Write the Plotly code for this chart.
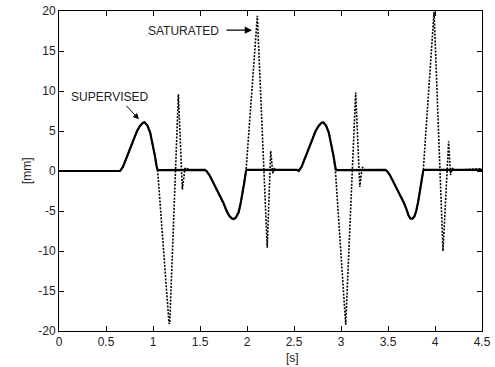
import plotly.graph_objects as go

# SUPERVISED (solid) curve: time [s], displacement [mm]
sup_t = [0.00, 0.65, 0.68, 0.72, 0.76, 0.79, 0.83, 0.86, 0.89, 0.91, 0.94, 0.97, 1.00, 1.02, 1.04, 1.05,
         1.55, 1.57, 1.60, 1.64, 1.68, 1.72, 1.75, 1.78, 1.81, 1.84, 1.86, 1.88, 1.91, 1.93, 1.95, 1.97, 1.99, 2.00,
         2.53, 2.55, 2.58, 2.62, 2.66, 2.69, 2.73, 2.76, 2.79, 2.81, 2.84, 2.87, 2.90, 2.92, 2.94, 2.95,
         3.47, 3.49, 3.52, 3.56, 3.60, 3.64, 3.67, 3.70, 3.72, 3.74, 3.76, 3.78, 3.80, 3.82, 3.84, 3.86, 3.875, 3.89,
         4.50]
sup_y = [0.0, 0.0, 0.5, 1.7, 2.9, 3.9, 5.0, 5.6, 6.0, 6.1, 5.7, 4.8, 3.2, 1.9, 0.5, 0.1,
         0.15, 0.0, -0.5, -1.4, -2.4, -3.3, -4.0, -4.9, -5.6, -5.95, -6.0, -5.85, -5.2, -4.2, -3.0, -1.5, 0.05, 0.15,
         0.15, 0.0, 0.5, 1.7, 2.9, 3.9, 5.0, 5.6, 6.0, 6.1, 5.7, 4.8, 3.2, 1.9, 0.5, 0.1,
         0.15, 0.0, -0.5, -1.4, -2.4, -3.3, -4.0, -4.9, -5.6, -5.95, -5.95, -5.7, -5.0, -3.9, -2.6, -1.2, 0.05, 0.15,
         0.15]

# SATURATED (dotted) curve
sat_t = [0.00, 0.65, 0.68, 0.72, 0.76, 0.79, 0.83, 0.86, 0.89, 0.91, 0.94, 0.97, 1.00, 1.02, 1.04, 1.05,
         1.17, 1.178, 1.27, 1.312, 1.34, 1.36, 1.38, 1.55,
         1.57, 1.60, 1.64, 1.68, 1.72, 1.75, 1.78, 1.81, 1.84, 1.86, 1.88, 1.91, 1.93, 1.95, 1.97, 1.99,
         2.11, 2.215, 2.252, 2.275, 2.29, 2.31, 2.53,
         2.55, 2.58, 2.62, 2.66, 2.69, 2.73, 2.76, 2.79, 2.81, 2.84, 2.87, 2.90, 2.92, 2.94,
         3.05, 3.156, 3.20, 3.225, 3.24, 3.26, 3.47,
         3.49, 3.52, 3.56, 3.60, 3.64, 3.67, 3.70, 3.72, 3.74, 3.76, 3.78, 3.80, 3.82, 3.84, 3.86, 3.875,
         3.99, 4.085, 4.145, 4.165, 4.185, 4.21, 4.50]
sat_y = [0.0, 0.0, 0.5, 1.7, 2.9, 3.9, 5.0, 5.6, 6.0, 6.1, 5.7, 4.8, 3.2, 1.9, 0.5, 0.0,
         -19.0, -19.1, 9.6, -2.3, 0.3, 0.4, 0.1, 0.15,
         0.0, -0.5, -1.4, -2.4, -3.3, -4.0, -4.9, -5.6, -5.95, -6.0, -5.85, -5.2, -4.2, -3.0, -1.5, 0.05,
         19.4, -9.6, 2.5, -0.3, 0.3, 0.1, 0.15,
         0.0, 0.5, 1.7, 2.9, 3.9, 5.0, 5.6, 6.0, 6.1, 5.7, 4.8, 3.2, 1.9, 0.1,
         -19.2, 9.8, -2.0, 0.5, 0.3, 0.1, 0.15,
         0.0, -0.5, -1.4, -2.4, -3.3, -4.0, -4.9, -5.6, -5.95, -5.95, -5.7, -5.0, -3.9, -2.6, -1.2, 0.05,
         19.9, -10.0, 3.7, -0.5, 0.3, 0.1, 0.3]

x_ticks = [0, 0.5, 1, 1.5, 2, 2.5, 3, 3.5, 4, 4.5]
x_tick_labels = ["0", "0.5", "1", "1.5", "2", "2.5", "3", "3.5", "4", "4.5"]
y_ticks = [-20, -15, -10, -5, 0, 5, 10, 15, 20]
y_tick_labels = ["-20", "-15", "-10", "-5", "0", "5", "10", "15", "20"]

FONT = "Liberation Sans, Arial, sans-serif"

fig = go.Figure()
fig.add_trace(go.Scatter(x=sat_t, y=sat_y, mode="lines",
                         line=dict(color="black", width=1.6, dash="2px,1.4px"),
                         name="SATURATED", showlegend=False))
fig.add_trace(go.Scatter(x=sup_t, y=sup_y, mode="lines",
                         line=dict(color="black", width=2.2),
                         name="SUPERVISED", showlegend=False))

axis_common = dict(showline=True, linecolor="black", linewidth=1, mirror="ticks",
                   ticks="inside", ticklen=5, tickcolor="black", showgrid=False,
                   zeroline=False, automargin=False, ticklabeloverflow="allow",
                   tickfont=dict(family=FONT, size=12, color="#222"))

fig.update_xaxes(range=[0, 4.5], tickvals=x_ticks, ticktext=x_tick_labels, **axis_common)
fig.update_yaxes(range=[-20, 20], tickvals=y_ticks, ticktext=y_tick_labels, **axis_common)

fig.add_annotation(x=0.54, y=9.3, text="SUPERVISED", showarrow=False,
                   font=dict(family=FONT, size=12, color="#222"))
fig.add_annotation(x=1.327, y=17.55, text="SATURATED", showarrow=False,
                   font=dict(family=FONT, size=12, color="#222"))
fig.add_annotation(x=0.851, y=6.46, text="", showarrow=True, ax=-14, ay=-15,
                   arrowhead=2, arrowsize=1.2, arrowwidth=1, arrowcolor="black")
fig.add_annotation(x=2.053, y=17.6, text="", showarrow=True, ax=-27, ay=0,
                   arrowhead=2, arrowsize=1.2, arrowwidth=1.2, arrowcolor="black")
# axis labels
fig.add_annotation(x=2.48, y=-20, yshift=-27, text="[s]", showarrow=False,
                   font=dict(family=FONT, size=12, color="#222"))
fig.add_annotation(xref="paper", x=0, xshift=-41, y=0, text="[mm]", textangle=-90,
                   showarrow=False, font=dict(family=FONT, size=12, color="#222"))

fig.update_layout(width=495, height=367, margin=dict(l=59, r=13, t=11, b=36),
                  paper_bgcolor="white", plot_bgcolor="white", showlegend=False)

# remove the default 8px page margin so the figure fills the window exactly
fig.write_html("out.html", config={"displayModeBar": False, "staticPlot": True},
               post_script="document.body.style.margin='0';")
